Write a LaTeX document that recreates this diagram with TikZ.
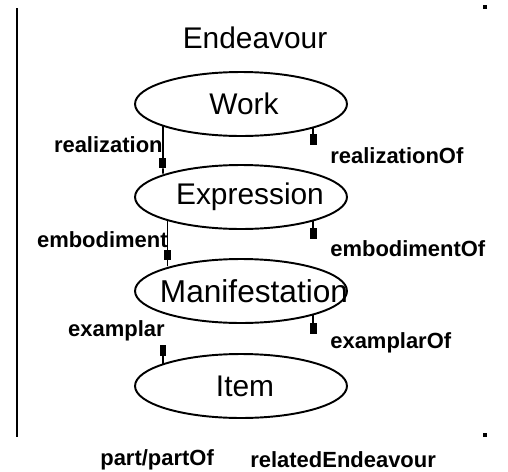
\documentclass[tikz,border=0pt]{standalone}
\usepackage{fontspec}
\setmainfont{Liberation Sans}
\usetikzlibrary{arrows.meta,shapes.geometric}

\newcommand{\entname}[2]{\makebox[0pt]{\hspace*{#1}\hspace*{#1}#2}}

\begin{document}
\begin{tikzpicture}[
    x=0.02cm, y=-0.02cm,
    ent/.style={ellipse, draw, line width=1.1pt, minimum width=4.24cm, minimum height=1.28cm, inner sep=0pt, font=\fontsize{17}{20}\selectfont},
    rel/.style={font=\bfseries\fontsize{12.5}{14}\selectfont, inner sep=0pt},
    link/.style={line width=1pt, -{Square[length=2mm,width=1.4mm]Rectangle[length=1.4mm,width=1pt]}},
    stub/.style={line width=1pt, -{Square[length=2.2mm,width=1.4mm]}},
    dot/.style={fill, minimum size=0.08cm, inner sep=0pt}
  ]
    \useasboundingbox (0,0) rectangle (508,471);

    \coordinate (top) at (17,8);
    \coordinate (bot) at (17,437);
    \draw[line width=1.7pt] (top) -- (bot);
    \node[dot] (dtop) at (485,7) {};
    \node[dot] (dbot) at (485,435) {};

    \node[font=\fontsize{17}{20}\selectfont] (title) at (255,38) {Endeavour};

    \node[ent] (work) at (241,104) {\entname{0.06cm}{Work}};
    \node[ent] (expr) at (241,197) {\entname{0.18cm}{Expression}};
    \node[ent] (mani) at (241,291) {\entname{0.26cm}{\fontsize{18}{20}\selectfont Manifestation}};
    \node[ent] (item) at (241,386) {\entname{0.08cm}{Item}};

    \draw[link] (work.-164.5) -- (work.-164.5 |- expr.164.5);
    \draw[link] (expr.-162.4) -- (expr.-162.4 |- mani.162.4);
    \coordinate (ex) at (163,345);
    \draw[stub] (item.164.5 -| ex) -- (ex);

    \coordinate (rw) at (313,145);
    \coordinate (re) at (313,239);
    \coordinate (rm) at (313,334);
    \draw[stub] (work.-18.1 -| rw) -- (rw);
    \draw[stub] (expr.-18.1 -| re) -- (re);
    \draw[stub] (mani.-18.1 -| rm) -- (rm);

    \node[rel, anchor=east] (lreal) at (163,145) {realization};
    \node[rel, anchor=west] (lrealof) at (330,156) {realizationOf};
    \node[rel, anchor=east] (lemb) at (168,240) {embodiment};
    \node[rel, anchor=west] (lembof) at (330,249) {embodimentOf};
    \node[rel, anchor=east] (lexa) at (165,331) {examplar};
    \node[rel, anchor=west] (lexaof) at (330,343) {examplarOf};

    \node[rel, anchor=west] (lpart) at (100,460) {part/partOf};
    \node[rel, anchor=west] (lrelend) at (250,460) {relatedEndeavour};
  \end{tikzpicture}
\end{document}
